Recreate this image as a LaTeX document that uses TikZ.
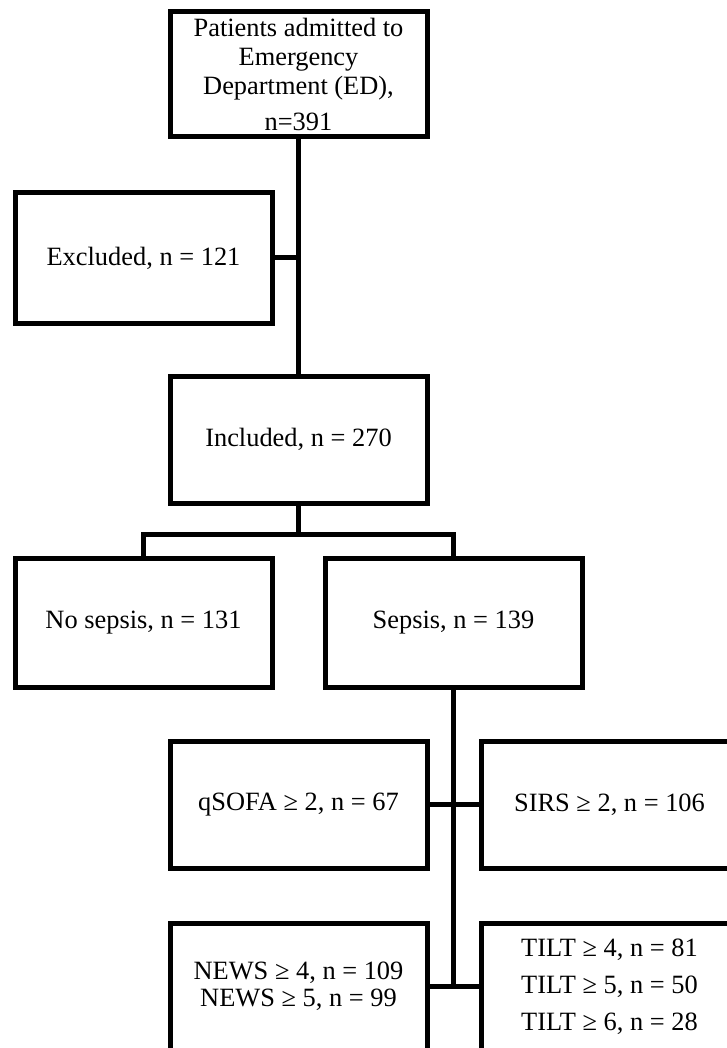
\documentclass[tikz,border=0pt]{standalone}
\usepackage{fontspec}
\setmainfont{Liberation Serif}
\begin{document}
\begin{tikzpicture}[x=1pt,y=-1pt,
  box/.style={draw,line width=5pt,rectangle,inner sep=0pt,minimum width=257pt,minimum height=127pt,align=center,font=\fontsize{26.4}{29}\selectfont},
  conn/.style={line width=5pt}]
\useasboundingbox (0,0) rectangle (727,1048);
\clip (0,0) rectangle (727,1048);
\node[box,minimum height=125pt] (top) at (298.5,74.5) {Patients admitted to\\Emergency\\Department (ED),\\[7pt]n=391};
\node[box,minimum height=130pt] (excl) at (143.5,258) {Excluded, n = 121};
\node[box] (incl) at (298.5,439.5) {Included, n = 270};
\node[box,minimum height=129pt] (nosep) at (143.5,622.5) {No sepsis, n = 131};
\node[box,minimum height=129pt] (sep) at (453.5,622.5) {Sepsis, n = 139};
\node[box] (qsofa) at (298.5,804.5) {qSOFA ≥ 2, n = 67};
\node[box] (sirs) at (609.5,804.5) {SIRS ≥ 2, n = 106};
\node[box,font=\fontsize{26.4}{27}\selectfont] (news) at (298.5,986.5) {NEWS ≥ 4, n = 109\\NEWS ≥ 5, n = 99};
\node[box,font=\fontsize{26.4}{37}\selectfont] (tilt) at (609.5,986.5) {TILT ≥ 4, n = 81\\TILT ≥ 5, n = 50\\TILT ≥ 6, n = 28};
\draw[conn] (top.south) -- (incl.north);
\draw[conn] (excl.east) -- (excl.east -| top.south);
\draw[conn] (incl.south) -- ++(0,29) coordinate (br);
\draw[conn] (nosep.north) |- (br) -| (sep.north);
\draw[conn] (sep.south) -- (sep.south |- news.east);
\draw[conn] (qsofa.east) -- (sirs.west);
\draw[conn] (news.east) -- (tilt.west);
\end{tikzpicture}
\end{document}
